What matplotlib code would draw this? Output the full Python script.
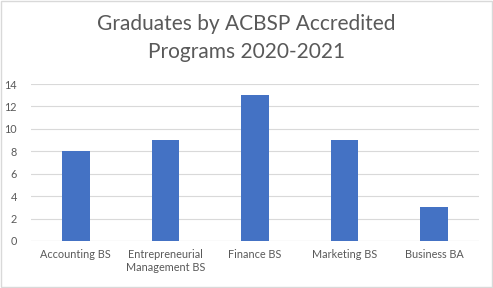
import matplotlib.pyplot as plt
from matplotlib.patches import Rectangle

programs = ["Accounting BS", "Entrepreneurial\nManagement BS", "Finance BS", "Marketing BS", "Business BA"]
graduates = [8, 9, 13, 9, 3]
yticks = [0, 2, 4, 6, 8, 10, 12, 14]

plt.rcParams['font.family'] = ['Lato', 'DejaVu Sans']

fig = plt.figure(figsize=(4.93, 2.88), dpi=100)
ax = fig.add_axes([0.0629, 0.1632, 0.9087, 0.5451])

x = range(len(programs))
ax.bar(x, graduates, width=0.31, color="#4472C4", zorder=3)
ax.set_xlim(-0.5, len(programs) - 0.5)
ax.set_ylim(0, 14)
ax.set_yticks(yticks)
ax.set_xticks(list(x))
ax.set_xticklabels(programs, fontsize=7.8, color="#595959", linespacing=1.2)
ax.tick_params(axis="y", labelsize=7.8, labelcolor="#595959", length=0, pad=10)
ax.tick_params(axis="x", length=0, pad=6)
ax.grid(axis="y", color="#d9d9d9", linewidth=0.8, zorder=0)
for s in ax.spines.values():
    s.set_visible(False)
ax.axhline(0, color="#d9d9d9", linewidth=0.8, zorder=1)

fig.text(0.5, 0.868, "Graduates by ACBSP Accredited\nPrograms 2020-2021", ha="center", va="center",
         fontsize=15, color="#595959", linespacing=1.45)
fig.patches.append(Rectangle((0.002, 0.003), 0.996, 0.994, transform=fig.transFigure,
                             fill=False, edgecolor="#d9d9d9", linewidth=1))

fig.savefig("out.png", dpi=100)
